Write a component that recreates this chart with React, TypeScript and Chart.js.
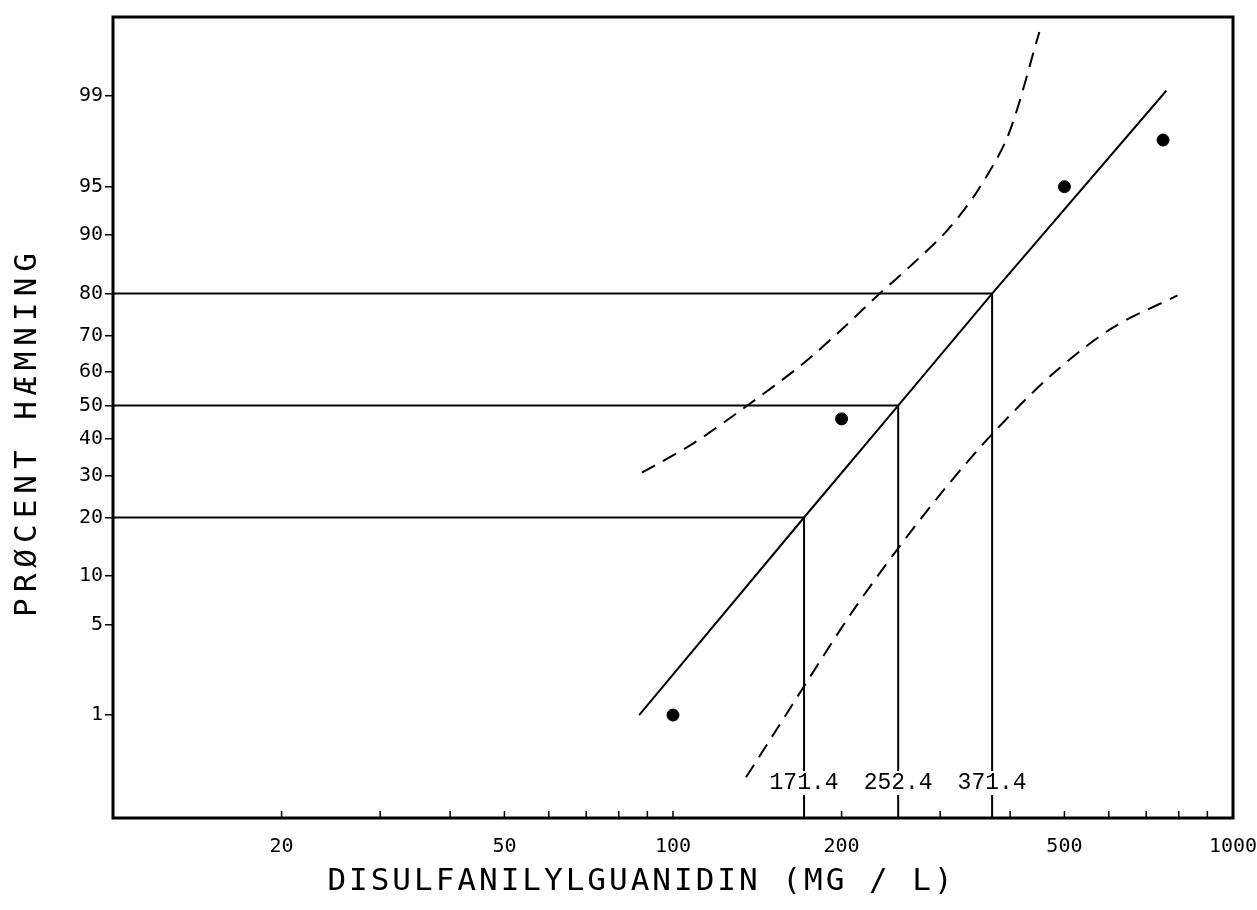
import React, { useEffect, useRef } from "react";
import { Chart, registerables } from "chart.js";

Chart.register(...registerables);

// ---- axis ranges (x: dose, log scale; y: probit z of percent) ----
const X_MIN = 10;
const X_MAX = 1000;
const Y_MIN = -3.1;
const Y_MAX = 2.92;

// ---- ticks ----
const xTickValues = [20, 30, 40, 50, 60, 70, 80, 90, 100, 200, 300, 400, 500, 600, 700, 800, 900, 1000];
const xTickLabels = ["20", "", "", "50", "", "", "", "", "100", "200", "", "", "500", "", "", "", "", "1000"];
const yTickPercents = [1, 5, 10, 20, 30, 40, 50, 60, 70, 80, 90, 95, 99];
const yTickLabels = ["1", "5", "10", "20", "30", "40", "50", "60", "70", "80", "90", "95", "99"];

// ---- observed points ----
const obsDose = [100, 200, 500, 750];
const obsPct = [1.0, 46, 95, 97.7];

// ---- fitted probit line ----
const fitDose = [87, 171.4, 252.4, 371.4, 760];
const fitPct = [1.0, 20, 50, 80, 99.1];

// ---- confidence limits ----
const upperDose = [88, 108, 135, 170, 200, 233, 267, 308, 349, 397, 451];
const upperPct = [30.7, 38.5, 49.7, 62.1, 71.6, 79.8, 85.5, 90.5, 94.6, 97.9, 99.75];
const lowerDose = [135, 153, 173, 208.5, 253, 305, 371, 475, 610, 796];
const lowerPct = [0.26, 0.74, 1.86, 5.98, 14.3, 26.4, 41.4, 59.2, 72.1, 79.6];

// ---- ED20 / ED50 / ED80 reference lines ----
const refPct = [20, 50, 80];
const refDose = [171.4, 252.4, 371.4];

const X_TITLE = "DISULFANILYLGUANIDIN (MG / L)";
const Y_TITLE = "PRØCENT HÆMNING";

// inverse standard normal CDF (Acklam)
function probit(p: number): number {
  const a = [-3.969683028665376e1, 2.209460984245205e2, -2.759285104469687e2, 1.38357751867269e2, -3.066479806614716e1, 2.506628277459239];
  const b = [-5.447609879822406e1, 1.615858368580409e2, -1.556989798598866e2, 6.680131188771972e1, -1.328068155288572e1];
  const c = [-7.784894002430293e-3, -3.223964580411365e-1, -2.400758277161838, -2.549732539343734, 4.374664141464968, 2.938163982698783];
  const d = [7.784695709041462e-3, 3.224671290700398e-1, 2.445134137142996, 3.754408661907416];
  const pl = 0.02425;
  if (p < pl) {
    const q = Math.sqrt(-2 * Math.log(p));
    return (((((c[0] * q + c[1]) * q + c[2]) * q + c[3]) * q + c[4]) * q + c[5]) / ((((d[0] * q + d[1]) * q + d[2]) * q + d[3]) * q + 1);
  }
  if (p > 1 - pl) {
    const q = Math.sqrt(-2 * Math.log(1 - p));
    return -(((((c[0] * q + c[1]) * q + c[2]) * q + c[3]) * q + c[4]) * q + c[5]) / ((((d[0] * q + d[1]) * q + d[2]) * q + d[3]) * q + 1);
  }
  const q = p - 0.5;
  const r = q * q;
  return ((((((a[0] * r + a[1]) * r + a[2]) * r + a[3]) * r + a[4]) * r + a[5]) * q) / (((((b[0] * r + b[1]) * r + b[2]) * r + b[3]) * r + b[4]) * r + 1);
}

const toPts = (xs: number[], ps: number[]) => xs.map((x, i) => ({ x, y: probit(ps[i] / 100) }));

const overlayPlugin = {
  id: "overlay",
  afterDatasetsDraw(chart: any) {
    const { ctx, chartArea: a, scales } = chart;
    const xs = scales.x;
    ctx.save();
    // dose labels on the vertical lines
    ctx.font = '23px "Liberation Mono"';
    ctx.textAlign = "center";
    ctx.textBaseline = "middle";
    refDose.forEach((d) => {
      const label = d.toFixed(1);
      const px = xs.getPixelForValue(d);
      const py = a.bottom - 35;
      const w = ctx.measureText(label).width;
      ctx.fillStyle = "#fff";
      ctx.fillRect(px - w / 2 - 2, py - 12, w + 4, 24);
      ctx.fillStyle = "#000";
      ctx.fillText(label, px, py);
    });
    // inward x ticks
    ctx.strokeStyle = "#000";
    ctx.lineWidth = 1.5;
    xTickValues.forEach((v) => {
      const px = xs.getPixelForValue(v);
      ctx.beginPath();
      ctx.moveTo(px, a.bottom);
      ctx.lineTo(px, a.bottom - 7);
      ctx.stroke();
    });
    // frame
    ctx.lineWidth = 3;
    ctx.strokeRect(a.left, a.top, a.right - a.left, a.bottom - a.top);
    ctx.restore();
  },
  afterDraw(chart: any) {
    const { ctx } = chart;
    ctx.save();
    ctx.fillStyle = "#000";
    ctx.font = '31px "DejaVu Sans Mono"';
    ctx.textBaseline = "middle";
    ctx.textAlign = "left";
    // x title
    (ctx as any).letterSpacing = "3px";
    let w = ctx.measureText(X_TITLE).width - 3;
    ctx.fillText(X_TITLE, 640 - w / 2, 882);
    // y title
    (ctx as any).letterSpacing = "6px";
    w = ctx.measureText(Y_TITLE).width - 6;
    ctx.translate(28, 435);
    ctx.rotate(-Math.PI / 2);
    ctx.fillText(Y_TITLE, -w / 2, 0);
    ctx.restore();
  },
};

export default function App() {
  const ref = useRef<HTMLCanvasElement | null>(null);

  useEffect(() => {
    if (!ref.current) return;
    const lineBase = {
      borderColor: "#000",
      backgroundColor: "#000",
      pointRadius: 0,
      fill: false,
      showLine: true,
    };
    const refDatasets = refDose.map((d, i) => ({
      ...lineBase,
      type: "line" as const,
      label: "ref" + refPct[i],
      borderWidth: 2,
      tension: 0,
      data: [
        { x: X_MIN, y: probit(refPct[i] / 100) },
        { x: d, y: probit(refPct[i] / 100) },
        { x: d, y: Y_MIN },
      ],
    }));
    const chart = new Chart(ref.current, {
      type: "scatter",
      data: {
        datasets: [
          ...refDatasets,
          {
            ...lineBase,
            type: "line",
            label: "fit",
            borderWidth: 2,
            tension: 0,
            data: toPts(fitDose, fitPct),
          },
          {
            ...lineBase,
            type: "line",
            label: "upper",
            borderWidth: 2,
            borderDash: [15, 9],
            tension: 0.3,
            data: toPts(upperDose, upperPct),
          },
          {
            ...lineBase,
            type: "line",
            label: "lower",
            borderWidth: 2,
            borderDash: [15, 9],
            tension: 0.3,
            data: toPts(lowerDose, lowerPct),
          },
          {
            type: "scatter",
            label: "obs",
            data: toPts(obsDose, obsPct),
            pointRadius: 6,
            pointBackgroundColor: "#000",
            pointBorderColor: "#000",
            showLine: false,
          } as any,
        ],
      },
      options: {
        responsive: false,
        animation: false,
        devicePixelRatio: 1,
        layout: { padding: { left: 0, top: 17, right: 24, bottom: 0 } },
        plugins: {
          legend: { display: false },
          tooltip: { enabled: false },
          title: { display: false },
        },
        scales: {
          x: {
            type: "logarithmic",
            min: X_MIN,
            max: X_MAX,
            border: { display: false },
            grid: { display: false },
            afterBuildTicks: (scale: any) => {
              scale.ticks = xTickValues.map((v) => ({ value: v }));
            },
            afterFit: (scale: any) => {
              scale.height = 92;
              scale.paddingLeft = 0;
              scale.paddingRight = 0;
            },
            ticks: {
              autoSkip: false,
              maxRotation: 0,
              minRotation: 0,
              padding: 9,
              color: "#000",
              font: { family: "DejaVu Sans Mono", size: 20 },
              callback: (_v: any, i: number) => xTickLabels[i],
            },
          },
          y: {
            type: "linear",
            min: Y_MIN,
            max: Y_MAX,
            border: { display: false },
            grid: {
              display: true,
              drawOnChartArea: false,
              drawTicks: true,
              tickLength: 8,
              color: "#000",
              lineWidth: 1.5,
            },
            afterBuildTicks: (scale: any) => {
              scale.ticks = yTickPercents.map((p) => ({ value: probit(p / 100) }));
            },
            afterFit: (scale: any) => {
              scale.width = 113;
              scale.paddingTop = 0;
              scale.paddingBottom = 0;
            },
            ticks: {
              autoSkip: false,
              padding: 2,
              color: "#000",
              font: { family: "DejaVu Sans Mono", size: 20 },
              callback: (_v: any, i: number) => yTickLabels[i],
            },
          },
        },
      } as any,
      plugins: [overlayPlugin],
    });
    return () => chart.destroy();
  }, []);

  return (
    <div style={{ position: "fixed", left: 0, top: 0, width: 1257, height: 910, background: "#fff" }}>
      <canvas ref={ref} width={1257} height={910} style={{ display: "block" }} />
    </div>
  );
}
